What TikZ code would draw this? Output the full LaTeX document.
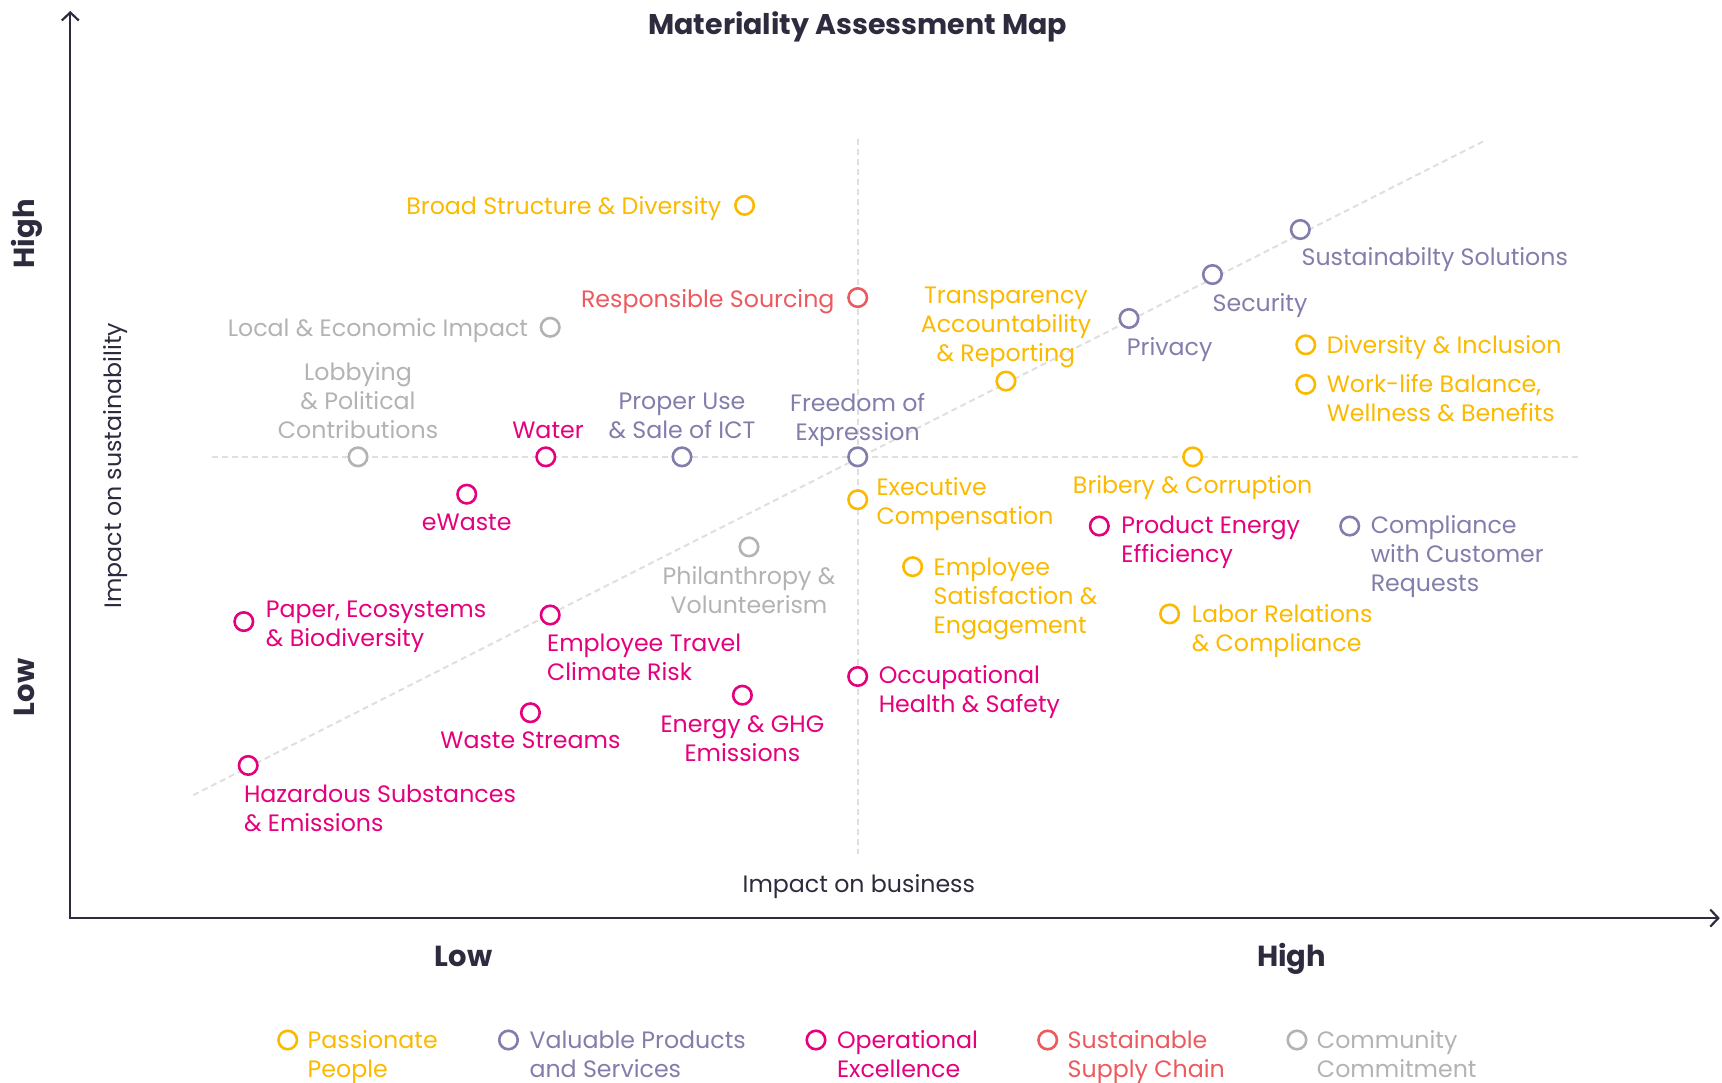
\documentclass[tikz,border=0pt]{standalone}
\usepackage{fontspec}
\setmainfont{Poppins}
\usetikzlibrary{arrows.meta}
\definecolor{cYel}{HTML}{FBB900}
\definecolor{cPur}{HTML}{827EAC}
\definecolor{cMag}{HTML}{E5007D}
\definecolor{cRed}{HTML}{EC5A5E}
\definecolor{cGry}{HTML}{B3B3B3}
\definecolor{cDark}{HTML}{2E2B3F}
\definecolor{cGuide}{HTML}{DFDFDF}
\begin{document}
\begin{tikzpicture}[x=1.0982pt,y=-1.0982pt,
  lbl/.style={font=\fontsize{23.7}{29}\selectfont, inner sep=0pt},
  dot/.style={circle, draw, fill=white, line width=2.6pt, minimum size=18.5pt, inner sep=0pt},
  guide/.style={draw=cGuide, line width=2pt, dash pattern=on 6pt off 4pt},
  axis/.style={draw=cDark, line width=2.4pt},
  big/.style={font=\fontsize{29}{34}\bfseries\selectfont, inner sep=0pt, text=cDark},
  yel/.style={text=cYel, draw=cYel}, pur/.style={text=cPur, draw=cPur},
  mag/.style={text=cMag, draw=cMag}, red/.style={text=cRed, draw=cRed},
  gry/.style={text=cGry, draw=cGry}]
\useasboundingbox (0,0) rectangle (1568,985.25);

% guide lines
\coordinate (hL) at (193,416); \coordinate (hR) at (1437,416);
\coordinate (vT) at (781,127); \coordinate (vB) at (781,778);
\coordinate (dL) at (176,724); \coordinate (dR) at (1352,128);
\draw[guide] (hL) -- (hR);
\draw[guide] (vT) -- (vB);
\draw[guide] (dL) -- (dR);

% axes
\coordinate (O) at (64,836); \coordinate (ytip) at (64,10); \coordinate (xtip) at (1566,836);
\draw[axis, {Straight Barb[length=8pt,width=17pt,line width=2.2pt]}-{Straight Barb[length=8pt,width=17pt,line width=2.2pt]}] (ytip) -- (O) -- (xtip);

% titles
\node[big, font=\fontsize{28.5}{34}\bfseries\selectfont, anchor=base] (title) at (781,31) {Materiality Assessment Map};
\node[big, anchor=base] (xlow) at (422,880) {Low};
\node[big, anchor=base] (xhigh) at (1176,880) {High};
\node[big, anchor=base, rotate=90] (yhigh) at (31.5,213) {High};
\node[big, anchor=base, rotate=90] (ylow) at (31.5,626) {Low};
\node[lbl, text=cDark, anchor=base] (xlab) at (782,813) {Impact on business};
\node[lbl, text=cDark, anchor=base, rotate=90] (ylab) at (111,424) {Impact on sustainability};

% points (multi-line labels are anchored at the baseline of their last line)
\node[dot, yel] (c1) at (678,187) {};
\node[lbl, yel, draw=none, anchor=base east] (l1) at (657,195) {Broad Structure \& Diversity};
\node[dot, red] (c2) at (781,271) {};
\node[lbl, red, draw=none, anchor=base east] (l2) at (760,280) {Responsible Sourcing};
\node[dot, gry] (c3) at (501,298) {};
\node[lbl, gry, draw=none, anchor=base east] (l3) at (481,306) {Local \& Economic Impact};
\node[dot, gry] (c4) at (326,416) {};
\node[lbl, gry, draw=none, anchor=base, align=center] (l4) at (326,399) {Lobbying\\\& Political\\Contributions};
\node[dot, mag] (c5) at (497,416) {};
\node[lbl, mag, draw=none, anchor=base] (l5) at (499,399) {Water};
\node[dot, pur] (c6) at (621,416) {};
\node[lbl, pur, draw=none, anchor=base, align=center] (l6) at (621,399) {Proper Use\\\& Sale of ICT};
\node[dot, pur] (c7) at (781,416) {};
\node[lbl, pur, draw=none, anchor=base, align=center] (l7) at (781,401) {Freedom of\\Expression};
\node[dot, yel] (c8) at (916,347) {};
\node[lbl, yel, draw=none, anchor=base, align=center] (l8) at (916,329) {Transparency\\Accountability\\\& Reporting};
\node[dot, pur] (c9) at (1028,290) {};
\node[lbl, pur, draw=none, anchor=base west] (l9) at (1026,324) {Privacy};
\node[dot, pur] (c10) at (1104,250) {};
\node[lbl, pur, draw=none, anchor=base west] (l10) at (1104,284) {Security};
\node[dot, pur] (c11) at (1184,209) {};
\node[lbl, pur, draw=none, anchor=base west] (l11) at (1185,242) {Sustainabilty Solutions};
\node[dot, yel] (c12) at (1189,314) {};
\node[lbl, yel, draw=none, anchor=base west] (l12) at (1208,322) {Diversity \& Inclusion};
\node[dot, yel] (c13) at (1189,350) {};
\node[lbl, yel, draw=none, anchor=base west, align=left] (l13) at (1208,384) {Work-life Balance,\\Wellness \& Benefits};
\node[dot, yel] (c14) at (1086,416) {};
\node[lbl, yel, draw=none, anchor=base] (l14) at (1086,449) {Bribery \& Corruption};
\node[dot, mag] (c15) at (425,450) {};
\node[lbl, mag, draw=none, anchor=base] (l15) at (425,483) {eWaste};
\node[dot, yel] (c16) at (781,455) {};
\node[lbl, yel, draw=none, anchor=base west, align=left] (l16) at (798,478) {Executive\\Compensation};
\node[dot, gry] (c17) at (682,498) {};
\node[lbl, gry, draw=none, anchor=base, align=center] (l17) at (682,559) {Philanthropy \&\\Volunteerism};
\node[dot, mag] (c18) at (1001,479) {};
\node[lbl, mag, draw=none, anchor=base west, align=left] (l18) at (1021,512) {Product Energy\\Efficiency};
\node[dot, pur] (c19) at (1229,479) {};
\node[lbl, pur, draw=none, anchor=base west, align=left] (l19) at (1248,539) {Compliance\\with Customer\\Requests};
\node[dot, yel] (c20) at (831,516) {};
\node[lbl, yel, draw=none, anchor=base west, align=left] (l20) at (850,576.5) {Employee\\Satisfaction \&\\Engagement};
\node[dot, yel] (c21) at (1065,559) {};
\node[lbl, yel, draw=none, anchor=base west, align=left] (l21) at (1085,593) {Labor Relations\\\& Compliance};
\node[dot, mag] (c22) at (222,566) {};
\node[lbl, mag, draw=none, anchor=base west, align=left] (l22) at (242,589) {Paper, Ecosystems\\\& Biodiversity};
\node[dot, mag] (c23) at (501,560) {};
\node[lbl, mag, draw=none, anchor=base west, align=left] (l23) at (498,620) {Employee Travel\\Climate Risk};
\node[dot, mag] (c24) at (781,616) {};
\node[lbl, mag, draw=none, anchor=base west, align=left] (l24) at (800,649) {Occupational\\Health \& Safety};
\node[dot, mag] (c25) at (676,633) {};
\node[lbl, mag, draw=none, anchor=base, align=center] (l25) at (676,693) {Energy \& GHG\\Emissions};
\node[dot, mag] (c26) at (483,649) {};
\node[lbl, mag, draw=none, anchor=base] (l26) at (483,682) {Waste Streams};
\node[dot, mag] (c27) at (226,697) {};
\node[lbl, mag, draw=none, anchor=base west, align=left] (l27) at (222,757) {Hazardous Substances\\\& Emissions};

% legend
\node[dot, yel] (g1) at (262,947) {};
\node[lbl, yel, draw=none, anchor=base west, align=left] (t1) at (280,981.4) {Passionate\\People};
\node[dot, pur] (g2) at (463,947) {};
\node[lbl, pur, draw=none, anchor=base west, align=left] (t2) at (482,981.4) {Valuable Products\\and Services};
\node[dot, mag] (g3) at (743,947) {};
\node[lbl, mag, draw=none, anchor=base west, align=left] (t3) at (762,981.4) {Operational\\Excellence};
\node[dot, red] (g4) at (954,947) {};
\node[lbl, red, draw=none, anchor=base west, align=left] (t4) at (972,981.4) {Sustainable\\Supply Chain};
\node[dot, gry] (g5) at (1181,947) {};
\node[lbl, gry, draw=none, anchor=base west, align=left] (t5) at (1199,981.4) {Community\\Commitment};
\end{tikzpicture}
\end{document}
